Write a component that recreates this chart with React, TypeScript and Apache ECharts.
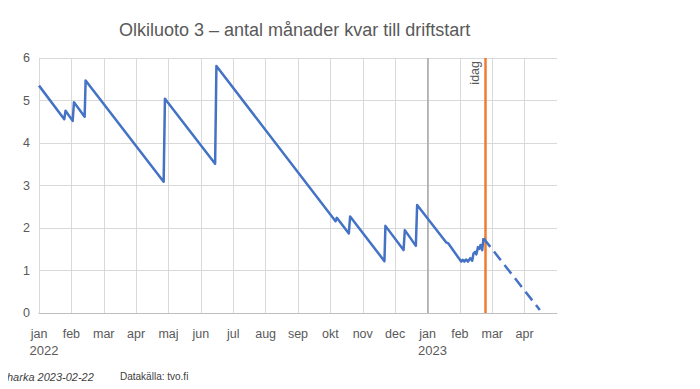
import React, { useEffect, useRef } from 'react';
import * as echarts from 'echarts';

// x positions are in months since 1 Jan 2022 (0 = jan 2022, 12 = jan 2023)
const monthLabels = ['jan', 'feb', 'mar', 'apr', 'maj', 'jun', 'jul', 'aug', 'sep', 'okt', 'nov', 'dec', 'jan', 'feb', 'mar', 'apr', ''];
const yearLabels: Record<number, string> = { 0: '2022', 12: '2023' };

const actualMonths = [0, 0.78, 0.82, 1.04, 1.08, 1.41, 1.44, 3.85, 3.89, 5.44, 5.48, 9.16, 9.2, 9.57, 9.61, 10.67, 10.7, 11.26, 11.3, 11.64, 11.68, 12.58, 12.64, 13.04, 13.09, 13.14, 13.19, 13.25, 13.32, 13.38, 13.42, 13.47, 13.51, 13.56, 13.6, 13.64, 13.69, 13.73];
const actualValues = [5.35, 4.56, 4.76, 4.52, 4.96, 4.62, 5.47, 3.09, 5.04, 3.51, 5.81, 2.16, 2.24, 1.87, 2.27, 1.22, 2.05, 1.48, 1.95, 1.58, 2.54, 1.66, 1.64, 1.21, 1.25, 1.21, 1.26, 1.21, 1.29, 1.23, 1.4, 1.44, 1.38, 1.55, 1.51, 1.6, 1.48, 1.76];

const forecastMonths = [13.73, 15.47];
const forecastValues = [1.76, 0.07];

const todayMonth = 13.77;
const newYearMonth = 12;
const todayLabel = 'idag';

const titleText = 'Olkiluoto 3 – antal månader kvar till driftstart';
const authorText = 'harka 2023-02-22';
const sourceText = 'Datakälla: tvo.fi';

const FONT = '"Liberation Sans", Arial, sans-serif';
const TEXT = '#595959';

export default function App() {
  const ref = useRef<HTMLDivElement>(null);
  useEffect(() => {
    if (!ref.current) return;
    const chart = echarts.init(ref.current, undefined, { renderer: 'svg' });
    const option: any = {
      animation: false,
      backgroundColor: '#ffffff',
      textStyle: { fontFamily: FONT },
      title: [
        { text: titleText, left: 119, top: 21, padding: 0, textStyle: { fontFamily: FONT, fontSize: 18, fontWeight: 'normal', color: TEXT } },
        { text: authorText, left: 7, top: 371, padding: 0, textStyle: { fontFamily: FONT, fontSize: 11, fontStyle: 'italic', fontWeight: 'normal', color: '#404040' } },
        { text: sourceText, left: 120, top: 371, padding: 0, textStyle: { fontFamily: FONT, fontSize: 10, fontWeight: 'normal', color: '#404040' } },
      ],
      grid: { left: 39, right: 143, top: 58, bottom: 76, containLabel: false },
      xAxis: [
        {
          type: 'value', min: 0, max: 16, interval: 1, position: 'bottom',
          show: false, splitLine: { show: false },
        },
        {
          type: 'category', data: monthLabels, boundaryGap: false, position: 'bottom',
          axisLine: { show: true, lineStyle: { color: '#BFBFBF', width: 1 } },
          axisTick: { show: false },
          splitLine: { show: true, interval: (i: number) => i < 16, lineStyle: { color: '#D9D9D9', width: 1 } },
          axisLabel: {
            interval: 0, margin: 12, color: TEXT, fontFamily: FONT,
            formatter: (v: string, i: number) => (yearLabels[i] ? `{m|${v}}\n{y|${yearLabels[i]}}` : `{m|${v}}`),
            rich: {
              m: { fontSize: 12.5, lineHeight: 17, color: TEXT, fontFamily: FONT },
              y: { fontSize: 13, lineHeight: 17, color: TEXT, fontFamily: FONT, padding: [0, 0, 0, 10] },
            },
          },
        },
      ],
      yAxis: {
        type: 'value', min: 0, max: 6, interval: 1,
        axisLine: { show: false }, axisTick: { show: false },
        splitLine: { lineStyle: { color: '#D9D9D9', width: 1 } },
        axisLabel: { color: TEXT, fontSize: 12.5, fontFamily: FONT, margin: 9 },
      },
      series: [
        {
          type: 'line', xAxisIndex: 0,
          data: actualMonths.map((m, i) => [m, actualValues[i]]),
          showSymbol: false, symbol: 'none',
          lineStyle: { color: '#4472C4', width: 2.5, join: 'round' },
          z: 5,
          markLine: {
            silent: true, symbol: 'none', animation: false,
            data: [
              { xAxis: newYearMonth, lineStyle: { color: '#A6A6A6', width: 1.5, type: 'solid' }, label: { show: false } },
              {
                xAxis: todayMonth, lineStyle: { color: '#ED7D31', width: 2.5, type: 'solid' },
                label: { show: true, formatter: todayLabel, position: 'insideEndTop', color: TEXT, fontSize: 12.5, fontFamily: FONT, distance: 3 },
              },
            ],
          },
        },
        {
          type: 'line', xAxisIndex: 0,
          data: forecastMonths.map((m, i) => [m, forecastValues[i]]),
          showSymbol: false, symbol: 'none',
          lineStyle: { color: '#4472C4', width: 2.5, type: [11, 6] },
          z: 5,
        },
      ],
    };
    chart.setOption(option);
    return () => chart.dispose();
  }, []);
  return <div ref={ref} style={{ width: 700, height: 389, margin: -8 }} />;
}
